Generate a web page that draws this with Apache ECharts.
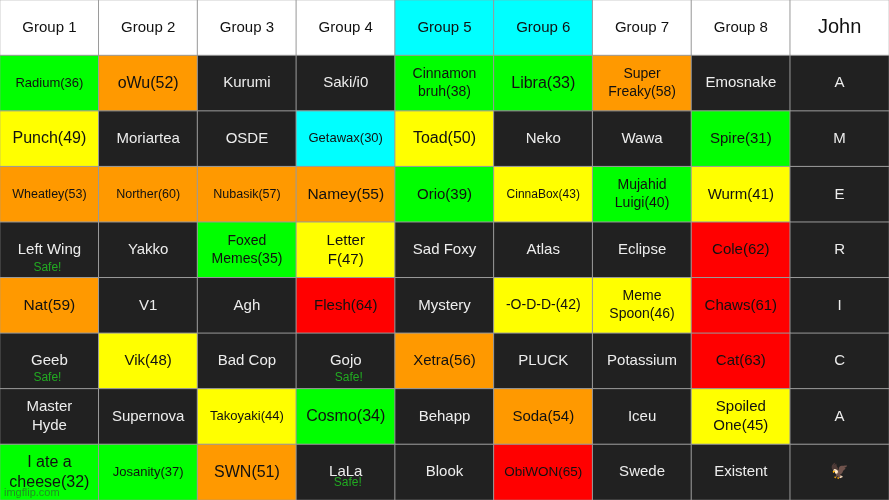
<!DOCTYPE html>
<html>
<head>
<meta charset="utf-8">
<style>html,body{margin:0;padding:0;background:#fff}#main{width:889px;height:500px}</style>
<script src="https://cdn.jsdelivr.net/npm/echarts@6/dist/echarts.min.js"></script>
</head>
<body>
<div id="main"></div>
<script>
var columns = ['0', '1', '2', '3', '4', '5', '6', '7', '8'];
var rows = ['head', 'r1', 'r2', 'r3', 'r4', 'r5', 'r6', 'r7', 'r8'];

var names = [
    ['Group 1', 'Group 2', 'Group 3', 'Group 4', 'Group 5', 'Group 6', 'Group 7', 'Group 8', 'John'],
    ['Radium(36)', 'oWu(52)', 'Kurumi', 'Saki/i0', 'Cinnamon\nbruh(38)', 'Libra(33)', 'Super\nFreaky(58)', 'Emosnake', 'A'],
    ['Punch(49)', 'Moriartea', 'OSDE', 'Getawax(30)', 'Toad(50)', 'Neko', 'Wawa', 'Spire(31)', 'M'],
    ['Wheatley(53)', 'Norther(60)', 'Nubasik(57)', 'Namey(55)', 'Orio(39)', 'CinnaBox(43)', 'Mujahid\nLuigi(40)', 'Wurm(41)', 'E'],
    ['Left Wing', 'Yakko', 'Foxed\nMemes(35)', 'Letter\nF(47)', 'Sad Foxy', 'Atlas', 'Eclipse', 'Cole(62)', 'R'],
    ['Nat(59)', 'V1', 'Agh', 'Flesh(64)', 'Mystery', '-O-D-D-(42)', 'Meme\nSpoon(46)', 'Chaws(61)', 'I'],
    ['Geeb', 'Vik(48)', 'Bad Cop', 'Gojo', 'Xetra(56)', 'PLUCK', 'Potassium', 'Cat(63)', 'C'],
    ['Master\nHyde', 'Supernova', 'Takoyaki(44)', 'Cosmo(34)', 'Behapp', 'Soda(54)', 'Iceu', 'Spoiled\nOne(45)', 'A'],
    ['I ate a\ncheese(32)', 'Josanity(37)', 'SWN(51)', 'LaLa', 'Blook', 'ObiWON(65)', 'Swede', 'Existent', '🦅']
];

// w white, c cyan, k dark, g green, y yellow, o orange, r red
var fills = [
    'wwwwccwww',
    'gokkggokk',
    'ykkcykkgk',
    'oooogygyk',
    'kkgykkkrk',
    'okkrkyyrk',
    'kykkokkrk',
    'kkygkokyk',
    'ggokkrkkk'
];

var fontSizes = [
    [15, 15, 15, 15, 15, 15, 15, 15, 20],
    [13, 16, 15, 15, 14, 16, 14, 15, 15],
    [16, 15, 15, 13, 16, 15, 15, 15, 15],
    [12.5, 12.5, 12.5, 15.5, 15, 12, 14, 15, 15],
    [15, 15, 14, 15, 15, 15, 15, 15, 15],
    [15.5, 15, 15, 15, 15, 14, 14, 15, 15],
    [15, 15, 15, 15, 15, 15, 15, 15, 15],
    [15, 15, 13, 16, 15, 15, 15, 15, 15],
    [16, 13, 16, 15, 15, 13.5, 15, 15, 15]
];

// col, row
var safeNotes = [
    [0, 4],
    [0, 6],
    [3, 6],
    [3, 8]
];
var safeOffsets = [[-2, 18], [-2, 17], [3, 17], [2, 10]];

var fillColors = { w: '#ffffff', c: '#00ffff', k: '#212121', g: '#00ff00', y: '#ffff00', o: '#ff9900', r: '#ff0000' };

var cells = [];
names.forEach(function (row, r) {
    row.forEach(function (name, c) {
        var f = fills[r][c];
        var size = fontSizes[r][c];
        cells.push({
            name: name,
            value: [c, r, 1],
            itemStyle: { color: fillColors[f] },
            label: {
                fontSize: size,
                lineHeight: Math.round(size * 1.25),
                color: f === 'k' ? '#ededed' : '#111111'
            }
        });
    });
});

var myChart = echarts.init(document.getElementById('main'));

var option = {
    animation: false,
    title: {
        text: 'imgflip.com',
        left: 4,
        bottom: 2,
        padding: 0,
        z: 10,
        textStyle: {
            fontFamily: 'Liberation Sans',
            fontSize: 11,
            fontWeight: 'normal',
            color: 'rgba(60,60,60,0.6)'
        }
    },
    grid: { left: 0, right: 0, top: 0, bottom: 0 },
    xAxis: { type: 'category', data: columns, show: false },
    yAxis: { type: 'category', data: rows, inverse: true, show: false },
    series: [
        {
            type: 'heatmap',
            data: cells,
            itemStyle: { borderColor: '#9a9a9a', borderWidth: 1 },
            label: {
                show: true,
                fontFamily: 'Liberation Sans, Noto Sans',
                formatter: function (p) {
                    return p.name;
                }
            }
        },
        {
            type: 'scatter',
            symbolSize: 0,
            z: 5,
            data: safeNotes.map(function (n, i) {
                return {
                    value: n,
                    label: { offset: safeOffsets[i] }
                };
            }),
            label: {
                show: true,
                position: 'inside',
                fontFamily: 'Liberation Sans',
                fontSize: 12,
                color: '#22cc22',
                formatter: 'Safe!'
            }
        }
    ]
};

myChart.setOption(option);
</script>
</body>
</html>
